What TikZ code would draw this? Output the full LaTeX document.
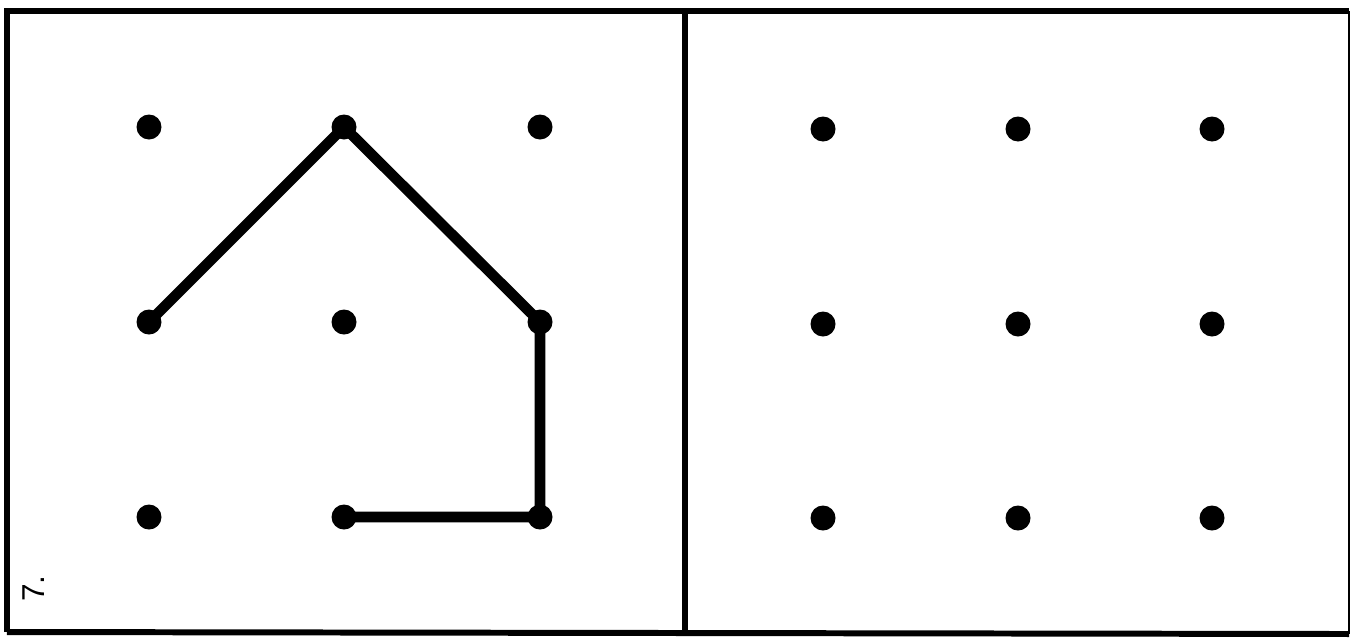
\documentclass[tikz,border=0pt]{standalone}
\usepackage{fontspec}
\setsansfont{Liberation Sans}
\usetikzlibrary{positioning}

\tikzset{
  peg/.style={circle, fill=black, inner sep=0pt, minimum size=0.5cm},
  band/.style={line width=6pt, line cap=round, line join=round},
  frame/.style={line width=3.4pt}
}

\begin{document}
\begin{tikzpicture}[x=0.02cm, y=-0.02cm]

\useasboundingbox (0,0) rectangle (1351,640);

% ── frame ────────────────────────────────────────
\draw[frame] (7,632) -- (7,11) -- (1349,11);
\draw[frame] (7,632) -- (1349,634);
\draw[frame] (685,11) -- (685,634);
\draw[line width=1pt] (1349,11) -- (1349,634);

% ── left panel: pegs ─────────────────────────────
\foreach \c/\x in {a/149, b/344, c/540}
  \foreach \r/\y in {1/127, 2/322, 3/517}
    \node[peg] (L\c\r) at (\x,\y) {};

% house shape
\draw[band] (La2.center) -- (Lb1.center) -- (Lc2.center) -- (Lc3.center) -- (Lb3.center);

\node[rotate=90, font=\sffamily\fontsize{18}{20}\selectfont, anchor=west] (num) at (34,608) {7.};

% ── right panel: empty pegs ──────────────────────
\foreach \c/\x in {a/823, b/1018, c/1212}
  \foreach \r/\y in {1/129, 2/324, 3/518}
    \node[peg] (R\c\r) at (\x,\y) {};

\end{tikzpicture}
\end{document}
